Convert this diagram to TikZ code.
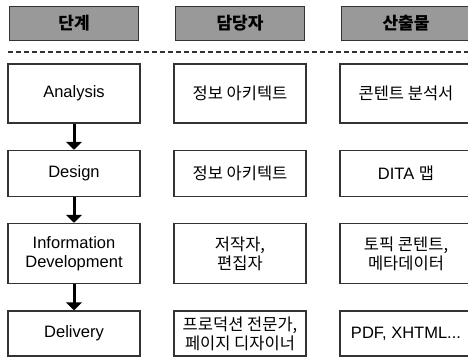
\documentclass[tikz,border=0pt]{standalone}
\usepackage{fontspec}
\setmainfont{Liberation Sans}
\newfontfamily\kr{Noto Sans CJK KR}
\usetikzlibrary{arrows.meta,positioning}
\definecolor{headgray}{RGB}{153,153,153}
\definecolor{edgegray}{RGB}{51,51,51}

\begin{document}
\begin{tikzpicture}[x=1pt,y=1pt,node distance=80pt and 166pt,on grid,
    head/.style={draw=edgegray,line width=1.5pt,fill=headgray,minimum width=129pt,minimum height=34pt,font=\kr\bfseries\fontsize{17}{20}\selectfont},
    cell/.style={draw=edgegray,line width=1.5pt,minimum width=132pt,inner sep=2pt,align=center,font=\fontsize{16.5}{19}\selectfont},
    flow/.style={line width=3pt,-{Triangle[length=8pt,width=16pt]}},
    divider/.style={draw=edgegray,line width=2pt,dash pattern=on 5pt off 3pt}]
   \useasboundingbox (0,0) rectangle (468,360);
   % header row
   \node[head] (stage) at (74,336.5) {단계};
   \node[head] (owner) [right=of stage] {담당자};
   \node[head] (output) [right=of owner] {산출물};
   \draw[divider] (8,308) -- (470,308);
   % stages
   \node[cell,minimum height=59pt] (analysis) at (74,266.5) {Analysis};
   \node[cell,minimum height=46pt] (design) [below=of analysis] {Design};
   \node[cell,minimum height=60pt] (info) [below=of design] {Information\\Development};
   \node[cell,minimum height=45pt] (delivery) [below=of info] {Delivery};
   % owners
   \node[cell,minimum height=59pt] (own1) [right=of analysis] {\kr 정보 아키텍트};
   \node[cell,minimum height=46pt] (own2) [right=of design] {\kr 정보 아키텍트};
   \node[cell,minimum height=60pt] (own3) [right=of info] {\kr 저작자,\\\kr 편집자};
   \node[cell,minimum height=45pt] (own4) [right=of delivery] {\kr 프로덕션 전문가,\\\kr 페이지 디자이너};
   % outputs
   \node[cell,minimum height=59pt] (out1) [right=of own1] {\kr 콘텐트 분석서};
   \node[cell,minimum height=46pt] (out2) [right=of own2] {DITA {\kr 맵}};
   \node[cell,minimum height=60pt] (out3) [right=of own3] {\kr 토픽 콘텐트,\\\kr 메타데이터};
   \node[cell,minimum height=45pt] (out4) [right=of own4] {PDF, XHTML...};
    \path[flow]
    (analysis) edge (design)
    (design) edge (info)
    (info) edge (delivery);
\end{tikzpicture}
\end{document}
